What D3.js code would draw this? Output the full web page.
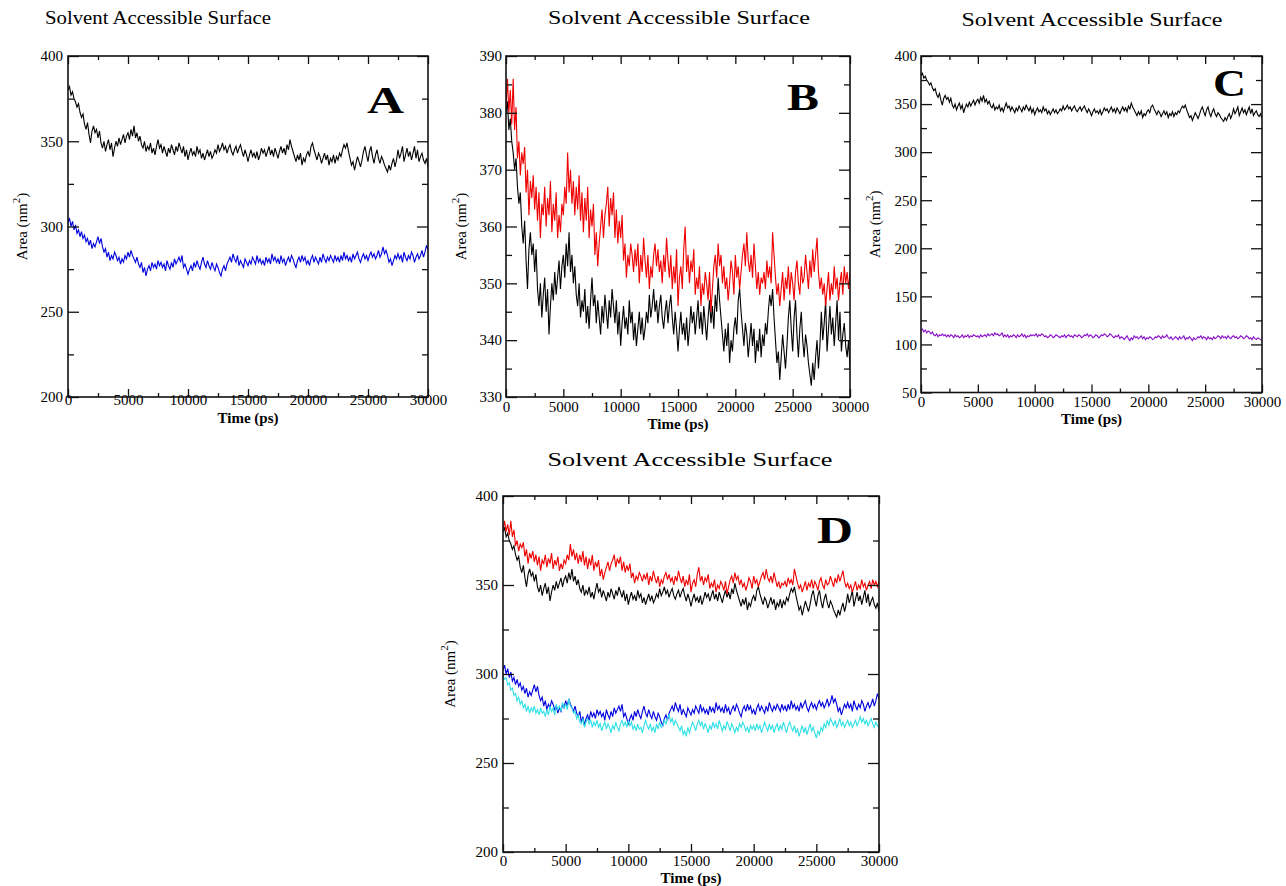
<!DOCTYPE html>
<html>
<head>
<meta charset="utf-8">
<script src="https://cdn.jsdelivr.net/npm/d3@7"></script>
<style>
  html, body { margin: 0; padding: 0; background: #fff; }
  svg { display: block; }
  svg text { font-family: "Liberation Serif", "Times New Roman", Times, "DejaVu Serif", serif; fill: #000; }
</style>
</head>
<body>
<svg id="chart" width="1286" height="886" font-family="Liberation Serif, serif"></svg>
<script>
// ---------------- DATA ----------------
// All series span 0..30000 ps, sampled every 125 ps
const timeStartPs = 0;
const timeEndPs = 30000;

// Black system SASA (nm^2)
const blackSeries = [
  380,382,377,379,375,373,370,372,367,364,366,360,357,361,354,349,356,359,355,357,
  352,356,349,346,350,344,348,351,345,349,341,346,350,347,352,348,351,354,349,353,
  355,351,357,353,359,352,355,350,353,348,346,350,344,347,345,349,343,346,342,347,
  351,346,348,343,347,344,341,346,343,348,345,342,347,344,349,346,343,347,341,345,
  339,343,346,342,344,341,347,343,345,340,343,339,342,345,341,344,340,342,345,343,
  348,344,346,349,345,347,343,346,348,344,342,345,347,343,346,348,344,341,345,342,
  338,342,345,341,343,340,344,339,342,346,343,345,341,344,347,342,345,341,346,343,
  340,344,347,343,346,342,348,345,351,347,344,341,338,342,339,343,336,340,338,342,
  344,341,347,349,345,342,339,343,341,337,340,343,339,342,336,340,338,342,337,341,
  339,343,341,345,348,346,349,344,340,336,338,333,337,341,338,335,339,344,347,342,
  338,344,347,341,337,342,345,340,337,341,339,336,334,332,336,333,337,340,335,339,
  345,340,343,347,338,342,346,341,344,339,343,347,340,345,338,341,343,339,337,340,
  335
];

// Red system SASA (nm^2)
const redSeries = [
  381,386,380,384,378,386,377,381,372,375,369,373,371,374,366,370,362,368,365,369,
  363,367,361,366,358,364,362,367,360,365,362,368,359,364,361,366,358,362,359,364,
  362,367,364,373,366,370,364,368,362,367,363,369,361,366,359,365,361,367,358,363,
  360,364,355,359,353,357,360,363,358,362,364,367,360,365,362,366,358,363,357,361,
  358,362,354,357,351,355,353,357,355,352,356,353,357,350,355,352,358,354,351,355,
  349,353,351,355,357,353,356,352,354,350,355,352,358,354,351,355,349,353,350,356,
  346,351,353,349,356,360,352,355,350,354,352,356,348,351,349,353,346,350,348,352,
  350,347,352,345,349,353,355,351,357,353,355,350,353,349,351,347,350,354,352,348,
  355,351,353,349,352,355,357,353,359,354,352,355,351,357,353,349,352,348,351,350,
  352,349,354,351,353,350,359,355,351,348,350,346,349,352,347,351,349,353,348,352,
  350,347,352,354,350,348,353,350,351,355,352,349,354,351,356,352,355,358,352,349,
  351,348,350,346,349,352,347,350,348,353,349,351,347,350,352,348,353,350,352,349,
  352
];

// Blue system SASA (nm^2)
const blueSeries = [
  302,305,300,303,298,301,296,298,294,297,293,295,291,293,289,292,287,290,288,291,
  294,290,293,288,285,287,282,285,280,283,281,285,283,280,282,278,281,279,283,281,
  285,282,286,283,281,279,282,278,276,279,273,276,271,275,277,274,279,276,278,275,
  280,277,279,276,278,274,280,277,275,279,276,281,278,280,282,279,283,276,278,275,
  272,275,277,274,279,276,280,277,275,279,282,278,276,280,277,275,279,276,274,278,
  276,273,271,275,277,274,278,280,282,279,284,281,279,283,277,280,278,276,281,279,
  277,280,278,282,280,278,283,279,281,278,280,277,282,279,281,278,284,280,282,279,
  281,278,283,279,281,277,280,282,279,283,281,278,276,280,282,279,283,280,282,278,
  280,277,281,283,279,282,280,278,282,279,284,281,279,282,280,283,281,279,283,280,
  282,279,283,280,285,281,283,280,282,279,284,281,283,285,281,279,282,284,281,283,
  280,283,285,282,284,281,283,286,282,284,288,284,286,283,279,281,277,280,283,281,
  284,281,283,279,285,282,280,283,281,285,283,279,282,284,281,283,286,282,285,289,
  286
];

// Cyan system SASA (nm^2)
const cyanSeries = [
  299,297,298,294,295,291,292,288,289,285,287,283,285,281,283,279,282,278,281,279,
  282,278,280,277,281,278,279,276,280,277,282,279,281,277,283,280,282,279,284,281,
  283,280,286,282,281,278,279,275,277,273,272,275,270,273,275,272,274,270,273,271,
  274,270,272,268,271,273,269,272,270,267,271,269,273,270,268,272,274,271,273,270,
  274,271,273,269,271,268,272,269,270,267,271,274,271,269,272,268,270,267,272,269,
  273,270,271,274,272,275,277,273,275,271,274,272,270,268,271,266,268,265,270,267,
  270,273,271,268,272,274,271,273,269,272,270,267,271,269,273,270,272,269,274,271,
  268,271,269,273,271,268,272,270,267,270,268,272,270,273,271,268,270,267,271,269,
  271,268,272,269,271,267,270,273,270,268,272,269,271,267,270,272,268,271,269,273,
  270,267,271,273,270,268,271,267,269,265,268,271,267,270,266,269,272,268,270,267,
  264,268,266,270,268,272,270,274,271,275,273,271,274,270,272,275,271,273,270,272,
  274,271,273,270,272,274,271,273,276,273,275,272,274,271,273,275,272,270,273,271,
  270
];

// Violet system SASA (nm^2)
const purpleSeries = [
  114,116,113,115,112,114,113,111,113,110,109,111,108,110,109,111,109,110,108,110,
  108,110,109,107,110,108,109,107,108,110,107,109,108,110,107,109,108,110,109,108,
  109,107,110,108,109,110,108,111,109,110,111,109,112,110,111,109,110,112,108,110,
  108,110,107,109,108,110,109,107,110,108,109,111,108,110,107,109,108,110,109,110,
  109,111,108,110,109,111,110,108,109,107,108,110,109,107,108,110,109,108,107,109,
  108,110,107,109,110,108,109,107,110,109,108,110,109,107,108,110,109,111,108,110,
  109,107,108,110,109,107,108,110,109,111,110,108,109,111,110,108,107,109,108,110,
  106,108,107,105,107,109,106,104,107,105,109,107,108,106,107,109,106,108,105,107,
  106,108,107,105,106,108,107,109,108,106,109,107,108,110,107,106,108,105,106,108,
  107,105,108,106,107,109,105,107,106,108,106,104,107,105,106,108,107,109,106,108,
  107,105,108,106,107,105,108,106,107,109,108,106,109,107,108,106,109,107,106,108,
  109,107,108,106,107,109,108,106,107,109,108,106,107,105,108,106,105,107,106,105,
  104
];

// Tick values
const xMajorTicks = [0, 5000, 10000, 15000, 20000, 25000, 30000];
const xMinorTicks = [2500, 7500, 12500, 17500, 22500, 27500];
const yTicksA = [200, 250, 300, 350, 400];
const yMinorA = [225, 275, 325, 375];
const yTicksB = [330, 340, 350, 360, 370, 380, 390];
const yMinorB = [335, 345, 355, 365, 375, 385];
const yTicksC = [50, 100, 150, 200, 250, 300, 350, 400];
const yMinorC = [75, 125, 175, 225, 275, 325, 375];

const titleText = "Solvent Accessible Surface";
const xLabelText = "Time (ps)";

// ---------------- LAYOUT / STYLE ----------------
const SERIF = '"Liberation Serif", "Times New Roman", Times, serif';
const colors = { black: "#000000", red: "#ee0000", blue: "#0000dd", cyan: "#2ee0e6", purple: "#8a10c8" };

const panels = [
  { letter: "A", box: [68, 56, 428, 397], yDomain: [200, 400], yTicks: yTicksA, yMinor: yMinorA,
    series: [[blackSeries, colors.black], [blueSeries, colors.blue]],
    title: [158, 24, 226], xPad: -3, xLabelY: 423, yLabelX: 27, yPad: 5, letterPos: [367, 113, 37] },
  { letter: "B", box: [506, 56, 850, 397], yDomain: [330, 390], yTicks: yTicksB, yMinor: yMinorB,
    series: [[blackSeries, colors.black], [redSeries, colors.red]],
    title: [679, 24, 262], xPad: 4, xLabelY: 429, yLabelX: 466, yPad: 4, letterPos: [787, 110, 32] },
  { letter: "C", box: [921, 56, 1262, 392.5], yDomain: [50, 400], yTicks: yTicksC, yMinor: yMinorC,
    series: [[blackSeries, colors.black], [purpleSeries, colors.purple]],
    title: [1092, 26, 261], xPad: 4, xLabelY: 424, yLabelX: 880, yPad: 4, letterPos: [1213, 96, 33] },
  { letter: "D", box: [503, 496, 879, 852], yDomain: [200, 400], yTicks: yTicksA, yMinor: yMinorA,
    series: [[blackSeries, colors.black], [redSeries, colors.red], [blueSeries, colors.blue], [cyanSeries, colors.cyan]],
    title: [690, 466, 285], xPad: 3, xLabelY: 883, yLabelX: 455, yPad: 5, letterPos: [817, 543, 36] }
];

const svg = d3.select("#chart");
const defs = svg.append("defs");

panels.forEach((p, pi) => {
  const [x0, y0, x1, y1] = p.box;
  const x = d3.scaleLinear().domain([timeStartPs, timeEndPs]).range([x0, x1]);
  const y = d3.scaleLinear().domain(p.yDomain).range([y1, y0]);
  const g = svg.append("g");

  // title
  g.append("text")
    .attr("x", p.title[0]).attr("y", p.title[1])
    .attr("text-anchor", "middle")
    .style("font-family", SERIF)
    .attr("font-size", 19)
    .attr("textLength", p.title[2])
    .attr("lengthAdjust", "spacingAndGlyphs")
    .text(titleText);

  // clip
  const clipId = "clip" + pi;
  defs.append("clipPath").attr("id", clipId)
    .append("rect").attr("x", x0).attr("y", y0).attr("width", x1 - x0).attr("height", y1 - y0);

  // series
  const lines = g.append("g").attr("clip-path", `url(#${clipId})`);
  p.series.forEach(([data, col]) => {
    const step = (timeEndPs - timeStartPs) / (data.length - 1);
    const line = d3.line()
      .x((d, i) => x(timeStartPs + i * step))
      .y(d => y(d));
    lines.append("path")
      .datum(data)
      .attr("fill", "none")
      .attr("stroke", col)
      .attr("stroke-width", 1.1)
      .attr("d", line);
  });

  // axes: ticks pointing into the plot
  const fmt = d3.format("d");
  const bottom = g.append("g").attr("transform", `translate(0,${y1})`)
    .call(d3.axisBottom(x).tickValues(xMajorTicks).tickFormat(fmt).tickSizeInner(-8).tickSizeOuter(0).tickPadding(p.xPad));
  g.append("g").attr("transform", `translate(0,${y1})`)
    .call(d3.axisBottom(x).tickValues(xMinorTicks).tickFormat("").tickSizeInner(-4).tickSizeOuter(0));
  g.append("g").attr("transform", `translate(0,${y0})`)
    .call(d3.axisTop(x).tickValues(xMajorTicks).tickFormat("").tickSizeInner(-8).tickSizeOuter(0));
  g.append("g").attr("transform", `translate(0,${y0})`)
    .call(d3.axisTop(x).tickValues(xMinorTicks).tickFormat("").tickSizeInner(-4).tickSizeOuter(0));
  const left = g.append("g").attr("transform", `translate(${x0},0)`)
    .call(d3.axisLeft(y).tickValues(p.yTicks).tickFormat(fmt).tickSizeInner(-11).tickSizeOuter(0).tickPadding(p.yPad));
  g.append("g").attr("transform", `translate(${x0},0)`)
    .call(d3.axisLeft(y).tickValues(p.yMinor).tickFormat("").tickSizeInner(-6).tickSizeOuter(0));
  g.append("g").attr("transform", `translate(${x1},0)`)
    .call(d3.axisRight(y).tickValues(p.yTicks).tickFormat("").tickSizeInner(-11).tickSizeOuter(0));
  g.append("g").attr("transform", `translate(${x1},0)`)
    .call(d3.axisRight(y).tickValues(p.yMinor).tickFormat("").tickSizeInner(-6).tickSizeOuter(0));

  g.selectAll(".domain").remove();
  g.selectAll(".tick line").attr("stroke", "#111").attr("stroke-width", 1.3);
  g.selectAll("g").attr("font-family", null);
  bottom.selectAll("text").attr("font-size", 15).style("font-family", SERIF).attr("fill", "#000");
  left.selectAll("text").attr("font-size", 15).style("font-family", SERIF).attr("fill", "#000");

  // frame
  g.append("rect")
    .attr("x", x0).attr("y", y0).attr("width", x1 - x0).attr("height", y1 - y0)
    .attr("fill", "none").attr("stroke", "#111").attr("stroke-width", 1.6);

  // x label
  g.append("text")
    .attr("x", (x0 + x1) / 2).attr("y", p.xLabelY)
    .attr("text-anchor", "middle").attr("font-size", 15).attr("font-weight", "bold")
    .style("font-family", SERIF)
    .text(xLabelText);

  // y label with superscript
  const yl = g.append("text")
    .attr("transform", `translate(${p.yLabelX},${(y0 + y1) / 2}) rotate(-90)`)
    .attr("text-anchor", "middle").attr("font-size", 15)
    .style("font-family", SERIF);
  yl.append("tspan").text("Area (nm");
  yl.append("tspan").attr("dy", -7).attr("font-size", 11).text("2");
  yl.append("tspan").attr("dy", 7).text(")");

  // panel letter
  g.append("text")
    .attr("x", p.letterPos[0]).attr("y", p.letterPos[1])
    .attr("font-size", 38).attr("font-weight", "bold")
    .style("font-family", SERIF)
    .attr("textLength", p.letterPos[2]).attr("lengthAdjust", "spacingAndGlyphs")
    .text(p.letter);
});
</script>
</body>
</html>
